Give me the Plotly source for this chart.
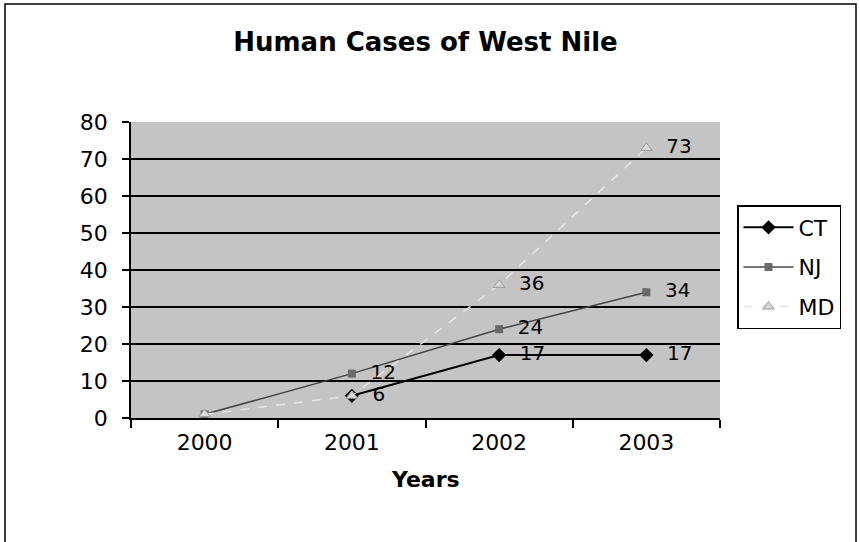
import plotly.graph_objects as go

years = ["2000", "2001", "2002", "2003"]
ct = [None, 6, 17, 17]
nj = [1, 12, 24, 34]
md = [1, 6, 36, 73]
ct_labels = ["", "6", "17", "17"]
nj_labels = ["", "12", "24", "34"]
md_labels = ["", "", "36", "73"]
y_ticks = [0, 10, 20, 30, 40, 50, 60, 70, 80]

FONT = "DejaVu Sans, Liberation Sans, Arial, sans-serif"
PAD = "\u00a0\u00a0"
LBL = 20

fig = go.Figure()
fig.add_trace(go.Scatter(
    x=years, y=ct, name="CT", mode="lines+markers+text", legendgroup="ct",
    text=[PAD + t if t else "" for t in ct_labels],
    textposition=["middle right", "middle right", "middle right", "middle right"],
    textfont=dict(size=LBL, color="black", family=FONT),
    line=dict(color="black", width=2),
    marker=dict(symbol="diamond", size=11, color="black"),
    connectgaps=False))
fig.add_trace(go.Scatter(
    x=years, y=nj, name="NJ", mode="lines+markers+text", legendgroup="nj",
    text=[PAD + t if t else "" for t in nj_labels], textposition="middle right",
    textfont=dict(size=LBL, color="black", family=FONT),
    line=dict(color="#444444", width=1.5),
    marker=dict(symbol="square", size=8, color="#6a6a6a")))
fig.add_trace(go.Scatter(
    x=years, y=md, name="MD", mode="lines+markers+text", legendgroup="md",
    text=[PAD + t if t else "" for t in md_labels], textposition="middle right",
    textfont=dict(size=LBL, color="black", family=FONT),
    line=dict(color="#e6e6e6", width=1.5, dash="dash"),
    marker=dict(symbol="triangle-up", size=10, color="#d8d8d8",
                line=dict(color="#999999", width=1))))

W, H = 860, 542
L, R, T, B = 131, 140, 122, 124
pw, ph = W - L - R, H - T - B

def px2x(px):
    return (px - L) / pw

def px2y(py):
    return (H - B - py) / ph

fig.update_layout(
    width=W, height=H,
    margin=dict(l=L, r=R, t=T, b=B),
    paper_bgcolor="white",
    plot_bgcolor="#c4c4c4",
    font=dict(family=FONT, size=22, color="black"),
    title=dict(text="<b>Human Cases of West Nile</b>", x=0.5 * (L + W - R) / W,
               xanchor="center", y=1 - 42 / H, yanchor="middle",
               font=dict(size=26, family=FONT, color="black")),
    showlegend=True,
    legend=dict(x=px2x(737), y=px2y(205), xanchor="left", yanchor="top",
                bgcolor="white", bordercolor="black", borderwidth=1.5,
                font=dict(size=22, family=FONT), tracegroupgap=8,
                traceorder="grouped", itemwidth=50),
    xaxis=dict(type="category", categoryorder="array", categoryarray=years,
               range=[-0.5, 3.5], showgrid=False, showline=True,
               linecolor="black", linewidth=1.5, ticks="outside",
               tickson="boundaries", ticklen=8, tickcolor="black",
               tickwidth=1.5, tickfont=dict(size=22), zeroline=False,
               ticklabelstandoff=4, fixedrange=True),
    yaxis=dict(range=[0, 80], tickvals=y_ticks, showgrid=True,
               gridcolor="black", gridwidth=1.8, showline=True,
               linecolor="black", linewidth=1.5, ticks="outside",
               ticklen=7, tickcolor="black", tickwidth=1.5,
               tickfont=dict(size=22), zeroline=False,
               ticklabelstandoff=10, fixedrange=True),
)

fig.add_annotation(text="<b>Years</b>", xref="paper", yref="paper",
                   x=0.5, y=px2y(479), xanchor="center", yanchor="middle",
                   showarrow=False, font=dict(size=22, family=FONT))

fig.add_shape(type="rect", xref="paper", yref="paper",
              x0=px2x(5), x1=px2x(856), y0=px2y(560), y1=px2y(4),
              line=dict(color="black", width=1.5), fillcolor="rgba(0,0,0,0)",
              layer="below")

fig.write_html("out.html", config={"displayModeBar": False},
               post_script="document.body.style.margin='0';document.body.style.overflow='hidden';")
